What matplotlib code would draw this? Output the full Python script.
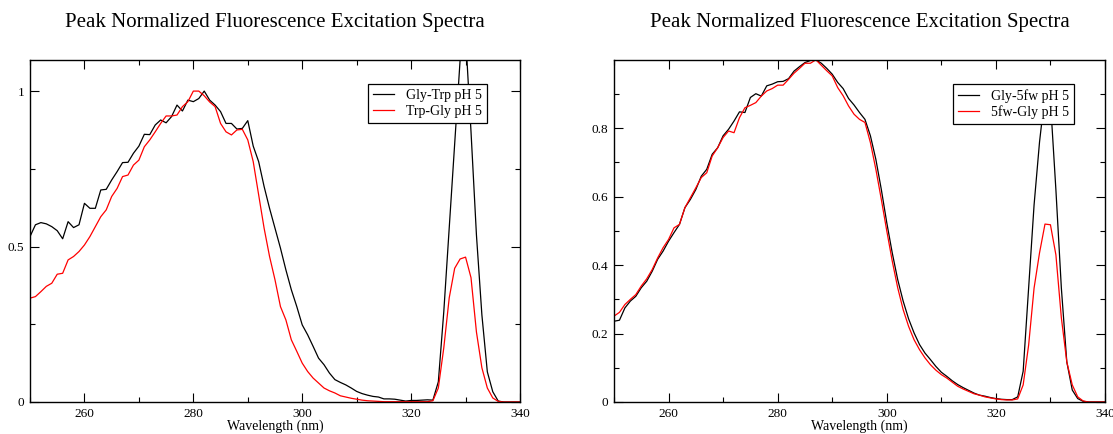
import numpy as np
import matplotlib
matplotlib.use('Agg')
import matplotlib.pyplot as plt
from matplotlib.ticker import MultipleLocator, FormatStrFormatter

# wavelength grid (nm)
wl = np.arange(250, 341)

# left panel: Gly-Trp / Trp-Gly pH 5
gly_trp = [0.532, 0.57, 0.577, 0.573, 0.564, 0.551, 0.525, 0.58, 0.561, 0.57,
           0.639, 0.623, 0.623, 0.682, 0.684, 0.714, 0.741, 0.770, 0.771, 0.80,
           0.823, 0.861, 0.86, 0.891, 0.907, 0.898, 0.918, 0.955, 0.936, 0.971,
           0.966, 0.976, 1.0, 0.971, 0.955, 0.934, 0.896, 0.896, 0.878, 0.88,
           0.905, 0.823, 0.773, 0.693, 0.623, 0.559, 0.495, 0.425, 0.361, 0.307,
           0.248, 0.216, 0.179, 0.141, 0.12, 0.093, 0.072, 0.063, 0.055, 0.045,
           0.034, 0.027, 0.022, 0.018, 0.016, 0.01, 0.01, 0.009, 0.006, 0.003,
           0.005, 0.005, 0.006, 0.007, 0.006, 0.065, 0.29, 0.56, 0.83, 1.1,
           1.18, 0.87, 0.537, 0.28, 0.097, 0.033, 0.003, 0.0, 0.0, 0.0,
           0.0]
trp_gly = [0.334, 0.339, 0.355, 0.372, 0.382, 0.411, 0.414, 0.457, 0.468, 0.484,
           0.505, 0.532, 0.564, 0.596, 0.618, 0.661, 0.687, 0.725, 0.73, 0.762,
           0.778, 0.821, 0.843, 0.869, 0.896, 0.92, 0.92, 0.923, 0.95, 0.966,
           1.0, 1.0, 0.985, 0.965, 0.95, 0.896, 0.869, 0.859, 0.875, 0.877,
           0.843, 0.773, 0.666, 0.559, 0.468, 0.393, 0.307, 0.264, 0.2, 0.163,
           0.125, 0.098, 0.077, 0.061, 0.045, 0.036, 0.029, 0.02, 0.016, 0.012,
           0.009, 0.006, 0.004, 0.003, 0.002, 0.001, 0.001, 0.001, 0.001, 0.001,
           0.001, 0.001, 0.001, 0.001, 0.004, 0.045, 0.174, 0.335, 0.43, 0.46,
           0.466, 0.4, 0.225, 0.11, 0.045, 0.013, 0.002, 0.0, 0.0, 0.0,
           0.0]

# right panel: Gly-5fw / 5fw-Gly pH 5
gly_5fw = [0.236, 0.239, 0.275, 0.295, 0.309, 0.334, 0.353, 0.382, 0.417, 0.441,
           0.47, 0.495, 0.519, 0.568, 0.592, 0.621, 0.66, 0.68, 0.724, 0.743,
           0.778, 0.797, 0.821, 0.848, 0.846, 0.89, 0.901, 0.894, 0.924, 0.929,
           0.936, 0.937, 0.945, 0.967, 0.98, 0.992, 0.998, 1.0, 0.99, 0.975,
           0.958, 0.934, 0.916, 0.887, 0.868, 0.846, 0.826, 0.778, 0.709, 0.621,
           0.524, 0.436, 0.358, 0.295, 0.243, 0.202, 0.168, 0.143, 0.124, 0.104,
           0.087, 0.075, 0.062, 0.051, 0.042, 0.034, 0.026, 0.02, 0.017, 0.013,
           0.01, 0.008, 0.007, 0.007, 0.015, 0.09, 0.333, 0.576, 0.76, 0.9,
           0.88, 0.62, 0.333, 0.117, 0.035, 0.01, 0.002, 0.0, 0.0, 0.0,
           0.0]
fw5_gly = [0.251, 0.262, 0.285, 0.3, 0.314, 0.339, 0.36, 0.387, 0.421, 0.451,
           0.475, 0.509, 0.519, 0.568, 0.597, 0.626, 0.656, 0.67, 0.719, 0.743,
           0.773, 0.792, 0.787, 0.831, 0.86, 0.867, 0.875, 0.894, 0.909, 0.916,
           0.926, 0.926, 0.943, 0.961, 0.975, 0.99, 0.99, 1.0, 0.984, 0.968,
           0.953, 0.919, 0.895, 0.865, 0.841, 0.826, 0.817, 0.758, 0.68, 0.592,
           0.5, 0.412, 0.334, 0.27, 0.221, 0.182, 0.153, 0.129, 0.109, 0.093,
           0.08, 0.07, 0.058, 0.046, 0.038, 0.031, 0.024, 0.02, 0.015, 0.012,
           0.009, 0.007, 0.006, 0.006, 0.009, 0.05, 0.166, 0.333, 0.436, 0.52,
           0.518, 0.43, 0.246, 0.117, 0.05, 0.015, 0.003, 0.0, 0.0, 0.0,
           0.0]

title = 'Peak Normalized Fluorescence Excitation Spectra'

plt.rcParams['font.family'] = ['Liberation Serif', 'DejaVu Serif']

W, H = 1113, 434
fig = plt.figure(figsize=(W / 100, H / 100), dpi=100)


def make_panel(rect, s1, s2, labels, ytop, ymajor, yminor, leg_right):
    ax = fig.add_axes([rect[0] / W, 1 - rect[3] / H, (rect[2] - rect[0]) / W,
                       (rect[3] - rect[1]) / H])
    ax.plot(wl, s1, color='black', lw=0.9, label=labels[0])
    ax.plot(wl, s2, color='red', lw=0.9, label=labels[1])
    ax.set_xlim(250, 340)
    ax.set_ylim(0, ytop)
    ax.xaxis.set_major_locator(MultipleLocator(20))
    ax.xaxis.set_minor_locator(MultipleLocator(10))
    ax.yaxis.set_major_locator(MultipleLocator(ymajor))
    ax.yaxis.set_minor_locator(MultipleLocator(yminor))
    ax.yaxis.set_major_formatter(FormatStrFormatter('%g'))
    ax.tick_params(which='both', direction='in', top=True, right=True,
                   labelsize=9.5, width=0.8)
    ax.tick_params(which='major', length=6.5, pad=4)
    ax.tick_params(which='minor', length=3.5)
    for sp in ax.spines.values():
        sp.set_linewidth(1.0)
    ax.set_xlabel('Wavelength (nm)', fontsize=10, labelpad=0)
    ax.set_title(title, fontsize=15, pad=24)
    leg = ax.legend(loc='upper right', bbox_to_anchor=(leg_right / W, 1 - 84 / H),
                    bbox_transform=fig.transFigure, fancybox=False,
                    edgecolor='black', fontsize=10, handlelength=1.5,
                    handletextpad=0.9, borderpad=0.35, labelspacing=0.2,
                    borderaxespad=0, framealpha=1)
    leg.get_frame().set_linewidth(0.9)
    return ax


make_panel((30, 60, 520, 402), gly_trp, trp_gly,
           ('Gly-Trp pH 5', 'Trp-Gly pH 5'), 1.1, 0.5, 0.25, 487)
make_panel((614, 60, 1105, 402), gly_5fw, fw5_gly,
           ('Gly-5fw pH 5', '5fw-Gly pH 5'), 0.9995, 0.2, 0.1, 1074)

fig.savefig('out.png', dpi=100)
